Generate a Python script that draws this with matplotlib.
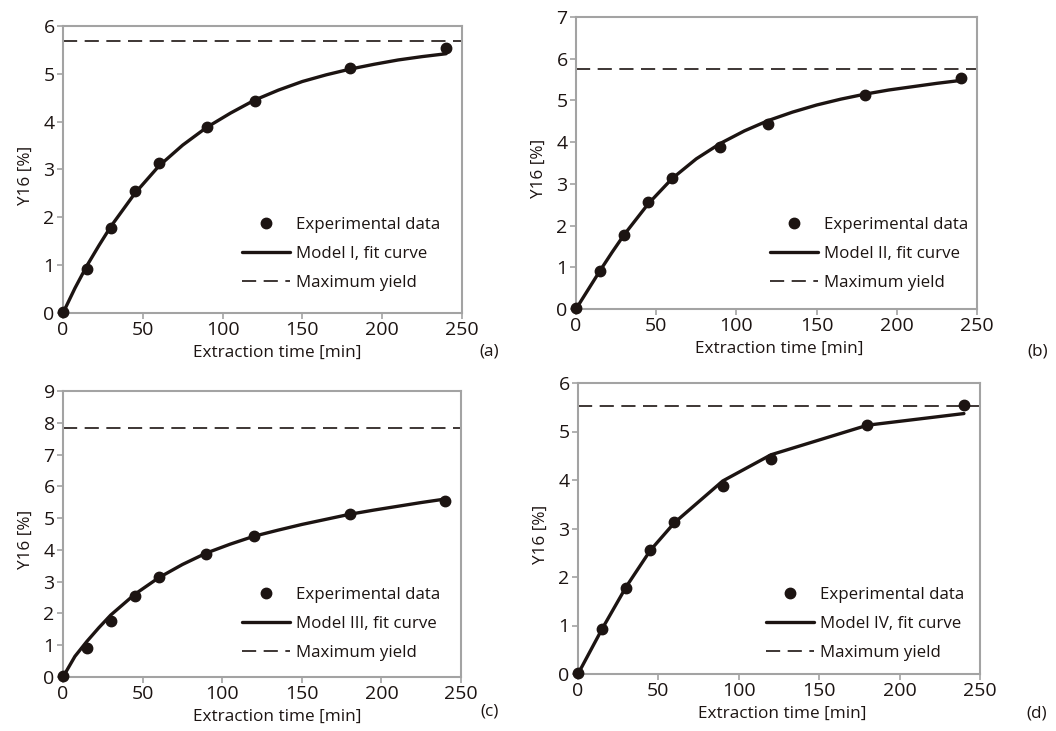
import numpy as np
import matplotlib
matplotlib.use('Agg')
import matplotlib.pyplot as plt

plt.rcParams['font.family'] = ['Open Sans', 'DejaVu Sans']

# experimental points (same in every panel)
t_exp = [0, 15, 30, 45, 60, 90, 120, 180, 240]
y_exp = [0.02, 0.92, 1.77, 2.56, 3.14, 3.88, 4.43, 5.13, 5.54]

# fit curves
t_fit = [0, 7.5, 15, 22.5, 30, 45, 60, 75, 90, 105, 120, 135, 150, 165,
         180, 195, 210, 225, 240]
fit_I = [0, 0.52, 0.99, 1.41, 1.81, 2.50, 3.07, 3.51, 3.88, 4.18, 4.45,
         4.66, 4.84, 4.98, 5.10, 5.20, 5.29, 5.36, 5.42]
fit_II = [0, 0.46, 0.92, 1.36, 1.78, 2.52, 3.13, 3.60, 3.97, 4.27, 4.52,
          4.72, 4.89, 5.03, 5.15, 5.25, 5.33, 5.41, 5.48]
fit_III = [0, 0.65, 1.12, 1.55, 1.95, 2.60, 3.12, 3.54, 3.90, 4.18, 4.43,
           4.62, 4.80, 4.96, 5.12, 5.25, 5.37, 5.49, 5.60]
t_fit_IV = [0, 15, 30, 45, 60, 90, 120, 180, 240]
fit_IV = [0, 0.93, 1.80, 2.55, 3.12, 3.98, 4.52, 5.13, 5.37]

max_yield = [5.68, 5.75, 7.82, 5.52]
y_top = [6, 7, 9, 6]
model_names = ["Model I, fit curve", "Model II, fit curve",
               "Model III, fit curve", "Model IV, fit curve"]
panel_tags = ["(a)", "(b)", "(c)", "(d)"]

W, H = 1056, 731
INK = '#1c1412'
SPINE = '#a3a3a3'

fig = plt.figure(figsize=(W / 100, H / 100), dpi=100)

# pixel boxes: left, right, top, bottom
boxes = [(63, 462, 26, 313), (576, 977, 17, 309),
         (63, 461, 391, 677), (578, 980, 383, 674)]
leg_anchor = [(0.449, 0.336), (0.484, 0.316), (0.450, 0.316), (0.468, 0.30)]
tag_pos = [(489, 352), (1038, 352), (490, 712), (1037, 713)]
ylab_x = [34, 547, 34, 549]
fits = [(t_fit, fit_I), (t_fit, fit_II), (t_fit, fit_III), (t_fit_IV, fit_IV)]


def draw_panel(i):
    l, r, t, b = boxes[i]
    ax = fig.add_axes([l / W, 1 - b / H, (r - l) / W, (b - t) / H])
    tx, ty = fits[i]
    ax.plot(tx, ty, color=INK, lw=2.4, solid_capstyle='round',
            solid_joinstyle='round', label=model_names[i], zorder=3)
    ax.plot(t_exp, y_exp, 'o', color=INK, ms=7.5, clip_on=False,
            label="Experimental data", zorder=4)
    ax.axhline(max_yield[i], color=INK, lw=1.2, dashes=(8.5, 4.5),
               label="Maximum yield", zorder=2)

    ax.set_xlim(0, 250)
    ax.set_ylim(0, y_top[i])
    ax.set_xticks(range(0, 251, 50))
    ax.set_yticks(range(0, y_top[i] + 1))
    for s in ax.spines.values():
        s.set_color(SPINE)
        s.set_linewidth(1.5)
    ax.tick_params(direction='out', length=4, width=1.2, color=SPINE,
                   labelsize=14, labelcolor=INK, pad=2)

    ax.set_xlabel("Extraction time [min]", fontsize=12.3, color=INK)
    ax.xaxis.set_label_coords(((l + r) / 2 + (15 if i in (0, 2) else 3) - l) / (r - l),
                              -32 / (b - t))
    ax.set_ylabel("Y16 [%]", fontsize=12.3, color=INK)
    ax.yaxis.set_label_coords((ylab_x[i] - l) / (r - l), 0.48)

    h, lab = ax.get_legend_handles_labels()
    order = [1, 0, 2]
    ax.legend([h[k] for k in order], [lab[k] for k in order],
              loc='upper left', bbox_to_anchor=leg_anchor[i], frameon=False,
              fontsize=12.2, handlelength=2.8, handletextpad=0.4,
              labelspacing=0.78, borderpad=0, borderaxespad=0,
              labelcolor=INK)

    fig.text(tag_pos[i][0] / W, 1 - tag_pos[i][1] / H, panel_tags[i],
             fontsize=12.3, color=INK, ha='center', va='center')


for i in range(4):
    draw_panel(i)

fig.savefig("out.png", dpi=100, facecolor='white')
